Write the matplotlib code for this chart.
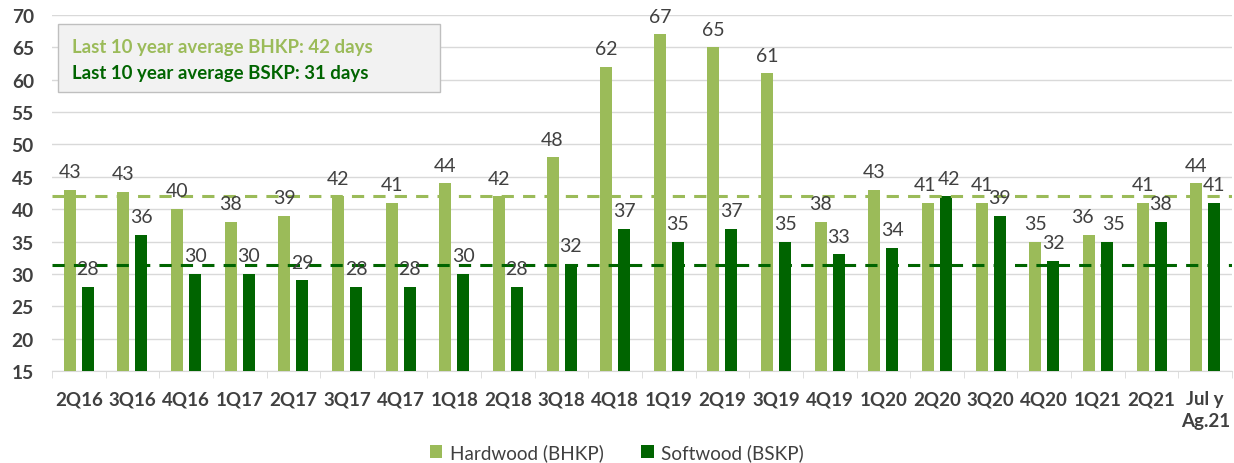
import matplotlib.pyplot as plt
import numpy as np
from matplotlib.patches import Rectangle

plt.rcParams['font.family'] = ['Lato', 'DejaVu Sans']

quarters = ['2Q16', '3Q16', '4Q16', '1Q17', '2Q17', '3Q17', '4Q17', '1Q18', '2Q18', '3Q18', '4Q18',
            '1Q19', '2Q19', '3Q19', '4Q19', '1Q20', '2Q20', '3Q20', '4Q20', '1Q21', '2Q21', 'Jul y\nAg.21']
hardwood = [43, 42.7, 40, 38, 39, 42, 41, 44, 42, 48, 62, 67, 65, 61, 38, 43, 41, 41, 35, 36, 41, 44]
softwood = [28, 36, 30, 30, 29, 28, 28, 30, 28, 31.6, 37, 35, 37, 35, 33, 34, 42, 39, 32, 35, 38, 41]
avg_bhkp = 42
avg_bskp = 31.3

light = '#9BBB59'
dark = '#006400'
txt = '#404040'

fig = plt.figure(figsize=(12.34, 4.64), dpi=100)
ax = fig.add_axes([52/1234, 1-372/464, 1180/1234, 356/464])

x = np.arange(len(quarters))
w = 0.224
off = 0.168
b1 = ax.bar(x - off, np.array(hardwood) - 15, w, bottom=15, color=light, label='Hardwood (BHKP)', zorder=3)
b2 = ax.bar(x + off, np.array(softwood) - 15, w, bottom=15, color=dark, label='Softwood (BSKP)', zorder=3)

# labels that sit close together get pushed apart a bit (as in the original)
nudge = {'1Q21': 5, '2Q20': 2}
for xi, q, v in zip(x, quarters, hardwood):
    ax.annotate(f'{round(v)}', (xi - off, v), xytext=(-nudge.get(q, 0), 7), textcoords='offset points',
                ha='center', va='bottom', fontsize=14, color=txt, zorder=5)
for xi, q, v in zip(x, quarters, softwood):
    ax.annotate(f'{round(v)}', (xi + off, v), xytext=(nudge.get(q, 0), 7), textcoords='offset points',
                ha='center', va='bottom', fontsize=14, color=txt, zorder=5)

ax.axhline(avg_bhkp, color=light, ls=(0, (4, 3)), lw=2.2, zorder=4)
ax.axhline(avg_bskp, color=dark, ls=(0, (4, 3)), lw=2.2, zorder=4)

ax.set_xlim(-0.5, len(quarters) - 0.5)
ax.set_ylim(15, 70)
ax.set_yticks(np.arange(15, 71, 5))
ax.grid(axis='y', color='#D9D9D9', lw=1, zorder=0)
for s in ['top', 'right', 'left']:
    ax.spines[s].set_visible(False)
ax.spines['bottom'].set_color('#D9D9D9')
ax.tick_params(axis='y', length=0, labelsize=13.8, labelcolor=txt, pad=13)
ax.set_xticks(x)
ax.set_xticklabels(quarters, fontweight='bold', fontsize=13.5, color=txt, linespacing=1.3)
ax.tick_params(axis='x', length=0, pad=14)
for lab in ax.get_yticklabels():
    lab.set_fontweight('bold')
ax.set_xticks(np.arange(-0.5, len(quarters)), minor=True)
ax.tick_params(axis='x', which='minor', length=5, color='#D9D9D9')

# annotation box
box = Rectangle((58/1234, 1-93/464), 382/1234, 68/464, transform=fig.transFigure,
                facecolor='#F2F2F2', edgecolor='#BFBFBF', lw=1, zorder=10)
fig.patches.append(box)
fig.text(72/1234, 1-48/464, 'Last 10 year average BHKP: 42 days', color=light, fontsize=13.4,
         fontweight='bold', va='center', zorder=11)
fig.text(72/1234, 1-73/464, 'Last 10 year average BSKP: 31 days', color=dark, fontsize=13.4,
         fontweight='bold', va='center', zorder=11)

fig.legend(handles=[b1, b2], loc='center', bbox_to_anchor=(0.5, 1-453/464), ncol=2, frameon=False,
           fontsize=13.6, handlelength=0.65, handleheight=0.65, handletextpad=0.4, columnspacing=2.0,
           labelcolor=txt)

fig.savefig('out.png', dpi=100)
